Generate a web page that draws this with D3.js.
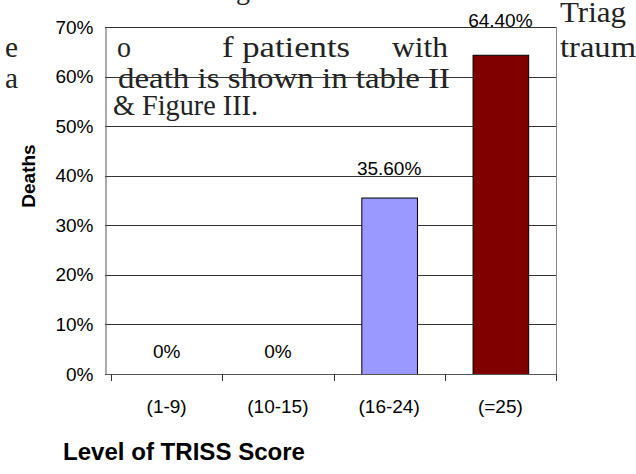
<!DOCTYPE html>
<html><head><meta charset="utf-8">
<script src="https://cdn.jsdelivr.net/npm/d3@7"></script>
<style>html,body{margin:0;padding:0;background:#fff;}svg{display:block;}</style>
</head><body>
<svg id="c" width="636" height="474"></svg>
<script>
const categories = ["(1-9)", "(10-15)", "(16-24)", "(=25)"];
const deaths = [0, 0, 0.356, 0.644];
const valueLabels = ["0%", "0%", "35.60%", "64.40%"];
const yTicks = [0, 0.1, 0.2, 0.3, 0.4, 0.5, 0.6, 0.7];
const barColors = ["#9999FF", "#9999FF", "#9999FF", "#800000"];
// Bleed-through text from the source document
const bgWords = ["g", "Triag", "e", "o", "f patients", "with", "traum", "a", "death is shown in table II", "& Figure III."];

// layout for the bleed-through words (x, baseline, width)
const bgLayout = [
  [236, -1, 14], [560, 22, 66], [5, 57, 13], [117, 57, 14], [222, 57, 128],
  [392, 57, 56], [560, 57, 76], [5, 88, 13], [118, 88, 332], [113, 115, 145]
];

const svg = d3.select("#c");
const L = 105, R = 556, T = 27, B = 374;
const x = d3.scaleBand().domain(categories).range([111, R]).padding(0);
const y = d3.scaleLinear().domain([0, 0.7]).range([B, T]);
const sans = "'Liberation Sans',Arial,sans-serif";

// background document text
svg.append("g").selectAll("text").data(bgWords).join("text")
  .attr("x", (d, i) => bgLayout[i][0]).attr("y", (d, i) => bgLayout[i][1])
  .attr("textLength", (d, i) => bgLayout[i][2]).attr("lengthAdjust", "spacingAndGlyphs")
  .attr("font-family", "'Liberation Serif','Times New Roman',serif")
  .attr("font-size", 29).attr("fill", "#222")
  .text(d => d);

// gridlines
svg.append("g").selectAll("line").data(yTicks.slice(1)).join("line")
  .attr("x1", L).attr("x2", R)
  .attr("y1", d => Math.round(y(d)) + 0.5).attr("y2", d => Math.round(y(d)) + 0.5)
  .attr("stroke", "#333").attr("stroke-width", 1);

// right border
svg.append("line").attr("x1", R + 0.5).attr("x2", R + 0.5).attr("y1", T).attr("y2", B)
  .attr("stroke", "#888");

// bars
const bw = x.bandwidth() * 0.5;
svg.append("g").selectAll("rect").data(deaths).join("rect")
  .attr("x", (d, i) => x(categories[i]) + (x.bandwidth() - bw) / 2 + 0.5)
  .attr("y", d => y(d) + 0.5)
  .attr("width", bw)
  .attr("height", d => Math.max(0, B - y(d)))
  .attr("fill", (d, i) => barColors[i])
  .attr("stroke", "#000").attr("stroke-width", 1)
  .attr("display", d => d > 0 ? null : "none");

// value labels
svg.append("g").selectAll("text").data(deaths).join("text")
  .attr("x", (d, i) => x(categories[i]) + x.bandwidth() / 2)
  .attr("y", d => y(d) - 16 - d * 18)
  .attr("text-anchor", "middle")
  .attr("font-family", sans)
  .attr("font-size", 19).attr("fill", "#000")
  .text((d, i) => valueLabels[i]);

// y axis
const yAxis = d3.axisLeft(y).tickValues(yTicks).tickFormat(d3.format(".0%")).tickSize(0).tickPadding(12);
const gy = svg.append("g").attr("transform", `translate(${L + 0.5},0)`).call(yAxis);
gy.select(".domain").attr("stroke", "#555");
gy.selectAll("text").attr("font-family", sans).attr("font-size", 19).attr("fill", "#000");

// x axis
const xAxis = d3.axisBottom(x).tickSize(0).tickPadding(25);
const gx = svg.append("g").attr("transform", `translate(0,${B + 0.5})`).call(xAxis);
gx.select(".domain").remove();
gx.selectAll("text").attr("font-family", sans).attr("font-size", 19).attr("fill", "#000");
svg.append("line").attr("x1", L).attr("x2", R + 1).attr("y1", B + 0.5).attr("y2", B + 0.5).attr("stroke", "#555");
// tick marks at band edges
const edges = categories.map(c => x(c)).concat([x.range()[1]]);
svg.append("g").selectAll("line").data(edges).join("line")
  .attr("x1", d => Math.round(d) + 0.5).attr("x2", d => Math.round(d) + 0.5)
  .attr("y1", B).attr("y2", B + 7).attr("stroke", "#333");

// axis titles
svg.append("text")
  .attr("transform", `translate(35,176) rotate(-90)`)
  .attr("text-anchor", "middle")
  .attr("font-family", sans)
  .attr("font-size", 19).attr("font-weight", "bold")
  .text("Deaths");
svg.append("text")
  .attr("x", 63).attr("y", 460)
  .attr("textLength", 242).attr("lengthAdjust", "spacingAndGlyphs")
  .attr("font-family", sans)
  .attr("font-size", 24).attr("font-weight", "bold")
  .text("Level of TRISS Score");
</script>
</body></html>
